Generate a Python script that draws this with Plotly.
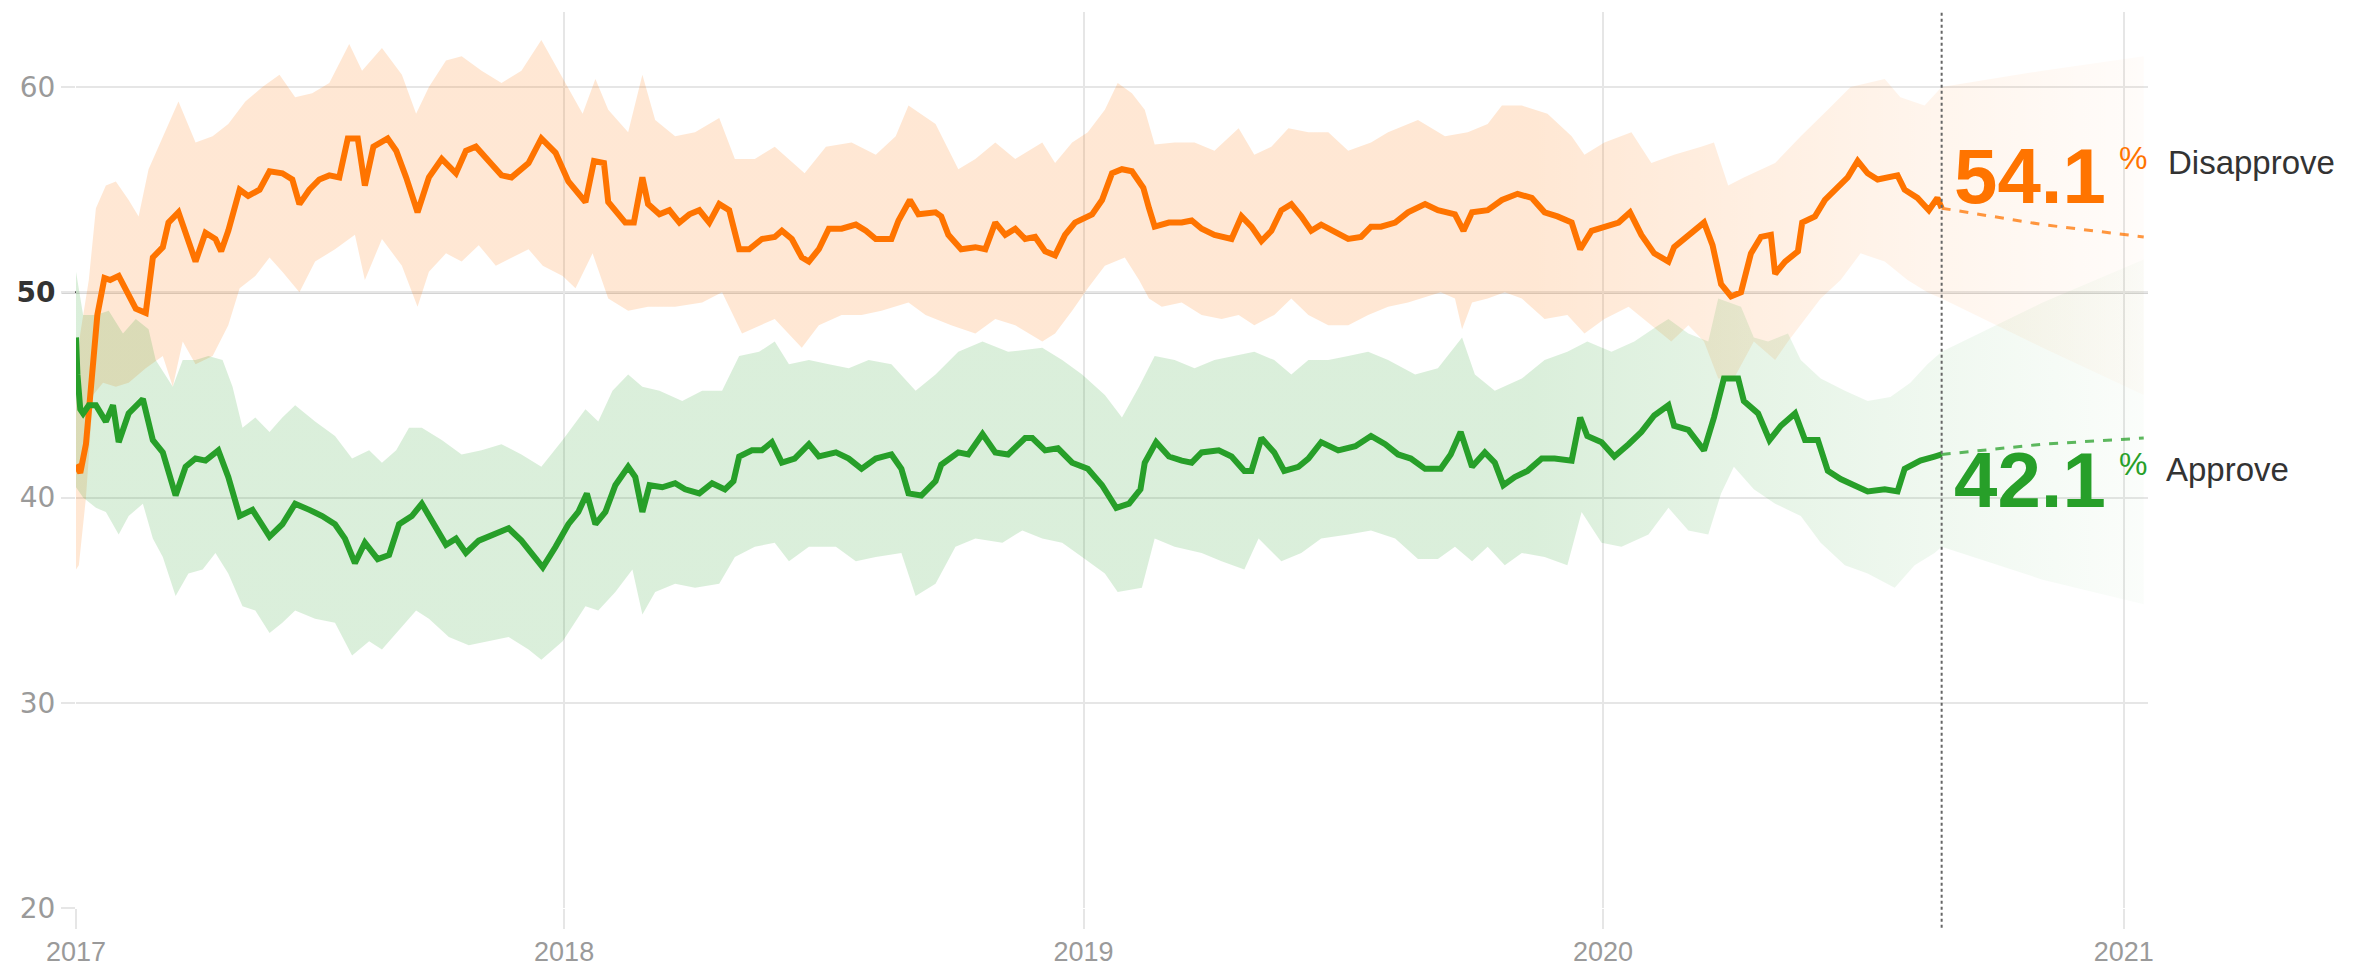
import pandas as pd
import plotly.graph_objects as go

# days counted from 2017-01-23 (start of the series)
start = pd.Timestamp("2017-01-23")

# --- Disapprove average (orange) ---
dis_day = [0, 3, 7, 12, 15, 20, 24, 30, 35, 42, 49, 54, 61, 65, 72, 78, 84, 91, 98, 102, 107, 115, 121, 129,
           136, 145, 152, 157, 164, 171, 178, 185, 191, 198, 203, 209, 219, 225, 232, 240, 248, 257, 267, 274,
           281, 290, 299, 306, 318, 327, 337, 346, 358, 364, 371, 374, 386, 392, 398, 402, 410, 417, 424, 431,
           438, 445, 452, 459, 466, 473, 482, 491, 496, 503, 510, 515, 522, 529, 538, 548, 555, 562, 573, 578,
           586, 592, 604, 608, 613, 622, 632, 639, 646, 653, 660, 667, 674, 681, 688, 695, 702, 714, 721, 728,
           735, 742, 750, 754, 758, 768, 777, 784, 791, 800, 812, 819, 826, 833, 840, 847, 854, 861, 868, 875,
           885, 894, 903, 910, 917, 927, 936, 948, 957, 969, 975, 981, 992, 1002, 1013, 1023, 1032, 1041, 1051,
           1057, 1065, 1074, 1084, 1092, 1100, 1109, 1119, 1123, 1133, 1144, 1150, 1156, 1163, 1170, 1177, 1184,
           1191, 1194, 1201, 1210, 1213, 1222, 1229, 1236, 1245, 1252, 1259, 1266, 1280, 1285, 1294, 1302, 1308,
           1311]
dis_val = [41.6, 41.2, 42.6, 46.5, 48.9, 50.7, 50.6, 50.8, 50.1, 49.2, 49.0, 51.7, 52.2, 53.4, 53.9, 52.6, 51.5,
           52.9, 52.6, 52.0, 53.0, 55.0, 54.7, 55.0, 55.9, 55.8, 55.5, 54.3, 55.0, 55.5, 55.7, 55.6, 57.5, 57.5,
           55.2, 57.1, 57.5, 56.9, 55.6, 53.9, 55.6, 56.5, 55.8, 56.9, 57.1, 56.4, 55.7, 55.6, 56.3, 57.5, 56.8,
           55.4, 54.4, 56.4, 56.3, 54.4, 53.4, 53.4, 55.6, 54.3, 53.8, 54.0, 53.4, 53.8, 54.0, 53.4, 54.3, 54.0,
           52.1, 52.1, 52.6, 52.7, 53.0, 52.6, 51.7, 51.5, 52.1, 53.1, 53.1, 53.3, 53.0, 52.6, 52.6, 53.5, 54.5,
           53.8, 53.9, 53.7, 52.8, 52.1, 52.2, 52.1, 53.4, 52.8, 53.1, 52.6, 52.7, 52.0, 51.8, 52.8, 53.4, 53.8,
           54.5, 55.8, 56.0, 55.9, 55.1, 54.1, 53.2, 53.4, 53.4, 53.5, 53.1, 52.8, 52.6, 53.7, 53.2, 52.5, 53.0,
           54.0, 54.3, 53.7, 53.0, 53.3, 52.9, 52.6, 52.7, 53.2, 53.2, 53.4, 53.9, 54.3, 54.0, 53.8, 53.0, 53.9,
           54.0, 54.5, 54.8, 54.6, 53.9, 53.7, 53.4, 52.1, 53.0, 53.2, 53.4, 53.9, 52.8, 51.9, 51.5, 52.2, 52.8,
           53.4, 52.3, 50.4, 49.8, 50.0, 51.9, 52.7, 52.8, 50.9, 51.5, 52.0, 53.4, 53.7, 54.5, 55.0, 55.6, 56.4,
           55.8, 55.5, 55.7, 55.0, 54.6, 54.0, 54.6, 54.1]

# --- Approve average (green) ---
app_day = [0, 1, 3, 5, 9, 14, 21, 26, 30, 37, 47, 54, 61, 70, 77, 84, 91, 100, 107, 115, 124, 136, 145, 154,
           164, 173, 182, 189, 196, 203, 212, 220, 227, 236, 243, 250, 260, 267, 274, 283, 295, 304, 313, 323,
           328, 337, 346, 353, 359, 365, 372, 379, 388, 393, 398, 403, 412, 421, 428, 438, 447, 456, 462, 466,
           475, 482, 489, 496, 505, 515, 522, 534, 543, 552, 562, 573, 580, 585, 594, 604, 608, 620, 627, 637,
           646, 655, 667, 672, 681, 690, 700, 711, 721, 731, 740, 748, 751, 759, 768, 777, 784, 791, 803, 812,
           821, 826, 833, 842, 849, 859, 866, 875, 887, 899, 910, 920, 929, 938, 948, 959, 966, 973, 981, 990,
           997, 1003, 1011, 1020, 1030, 1039, 1051, 1057, 1062, 1072, 1081, 1091, 1100, 1109, 1119, 1123, 1133,
           1144, 1151, 1158, 1168, 1172, 1182, 1190, 1198, 1208, 1215, 1224, 1231, 1240, 1250, 1259, 1271, 1280,
           1285, 1296, 1306, 1311]
app_val = [47.8, 46.0, 44.3, 44.1, 44.5, 44.5, 43.7, 44.5, 42.7, 44.1, 44.8, 42.8, 42.2, 40.1, 41.5, 41.9, 41.8,
           42.3, 41.0, 39.1, 39.4, 38.1, 38.7, 39.7, 39.4, 39.1, 38.7, 38.0, 36.8, 37.8, 37.0, 37.2, 38.7, 39.1,
           39.7, 38.9, 37.7, 38.0, 37.3, 37.9, 38.2, 38.5, 37.9, 37.1, 36.6, 37.6, 38.7, 39.3, 40.2, 38.7, 39.3,
           40.6, 41.5, 41.0, 39.3, 40.6, 40.5, 40.7, 40.4, 40.2, 40.7, 40.4, 40.8, 42.0, 42.3, 42.3, 42.7, 41.7,
           41.9, 42.6, 42.0, 42.2, 41.9, 41.4, 41.9, 42.1, 41.4, 40.2, 40.1, 40.8, 41.6, 42.2, 42.1, 43.1, 42.2,
           42.1, 42.9, 42.9, 42.3, 42.4, 41.7, 41.4, 40.6, 39.5, 39.7, 40.4, 41.7, 42.7, 42.0, 41.8, 41.7, 42.2,
           42.3, 42.0, 41.3, 41.3, 42.9, 42.2, 41.3, 41.5, 41.9, 42.7, 42.3, 42.5, 43.0, 42.6, 42.1, 41.9, 41.4,
           41.4, 42.1, 43.2, 41.5, 42.2, 41.7, 40.6, 41.0, 41.3, 41.9, 41.9, 41.8, 43.9, 43.0, 42.7, 42.0, 42.6,
           43.2, 44.0, 44.5, 43.5, 43.3, 42.3, 43.9, 45.8, 45.8, 44.7, 44.1, 42.8, 43.5, 44.1, 42.8, 42.8, 41.3,
           40.9, 40.6, 40.3, 40.4, 40.3, 41.4, 41.8, 42.0, 42.1]

# --- Disapprove uncertainty band ---
dis_hi_day = [0, 3, 9, 14, 21, 28, 37, 44, 51, 61, 72, 84, 96, 107, 119, 131, 143, 154, 166, 178, 192, 201, 215,
              229, 239, 248, 260, 271, 285, 299, 313, 327, 342, 356, 365, 374, 388, 398, 407, 421, 435, 452, 463,
              477, 491, 512, 527, 545, 562, 576, 585, 604, 620, 632, 646, 660, 679, 688, 700, 711, 723, 732, 742,
              751, 758, 772, 786, 800, 817, 828, 840, 852, 866, 880, 894, 910, 922, 943, 962, 978, 992, 1002,
              1016, 1034, 1051, 1060, 1074, 1093, 1107, 1123, 1142, 1151, 1161, 1172, 1194, 1212, 1231, 1247,
              1271, 1282, 1299, 1311]
dis_hi = [46.0, 48.0, 50.6, 54.1, 55.2, 55.4, 54.5, 53.7, 56.0, 57.6, 59.3, 57.3, 57.6, 58.2, 59.3, 60.0, 60.6,
          59.5, 59.7, 60.2, 62.1, 60.8, 61.9, 60.6, 58.7, 60.0, 61.3, 61.5, 60.8, 60.2, 60.8, 62.3, 60.4, 58.7,
          60.4, 58.9, 57.8, 60.6, 58.4, 57.6, 57.8, 58.5, 56.5, 56.5, 57.1, 55.8, 57.1, 57.3, 56.7, 57.6, 59.1,
          58.2, 56.0, 56.5, 57.3, 56.5, 57.3, 56.3, 57.3, 57.8, 58.9, 60.2, 59.7, 58.9, 57.2, 57.3, 57.3, 56.9,
          58.0, 56.7, 57.1, 58.0, 57.8, 57.8, 56.9, 57.3, 57.8, 58.4, 57.6, 57.8, 58.2, 59.1, 59.1, 58.7, 57.6,
          56.7, 57.3, 57.8, 56.3, 56.7, 57.1, 57.3, 55.2, 55.6, 56.3, 57.6, 58.9, 60.0, 60.4, 59.5, 59.1, 60.0]
dis_lo_day = [0, 2, 7, 12, 19, 28, 37, 49, 61, 68, 75, 84, 96, 107, 115, 126, 136, 145, 157, 168, 182, 196, 203,
              215, 229, 240, 248, 260, 271, 283, 295, 306, 318, 328, 342, 351, 363, 374, 388, 402, 421, 440, 454,
              468, 491, 510, 522, 538, 552, 566, 585, 597, 615, 632, 646, 660, 679, 688, 700, 711, 723, 737, 747,
              754, 763, 777, 791, 805, 817, 828, 842, 854, 866, 880, 894, 908, 922, 936, 945, 959, 969, 974, 981,
              992, 1004, 1016, 1032, 1048, 1060, 1074, 1091, 1107, 1121, 1133, 1144, 1154, 1165, 1179, 1194,
              1203, 1212, 1226, 1240, 1254, 1271, 1287, 1301, 1311]
dis_lo = [36.5, 36.7, 40.0, 45.0, 45.6, 45.4, 45.6, 46.3, 46.9, 45.4, 47.6, 46.5, 46.9, 48.4, 50.2, 50.8, 51.7,
          51.0, 50.0, 51.5, 52.1, 52.8, 50.6, 52.6, 51.3, 49.3, 51.0, 51.9, 51.5, 52.3, 51.3, 51.7, 52.1, 51.3,
          50.8, 50.2, 51.9, 49.7, 49.1, 49.3, 49.3, 49.5, 50.0, 48.0, 48.7, 47.3, 48.4, 48.9, 48.9, 49.1, 49.5,
          48.9, 48.4, 48.0, 48.7, 48.4, 47.6, 48.0, 49.1, 50.2, 51.3, 51.7, 50.6, 49.7, 49.3, 49.5, 48.9, 48.7,
          48.9, 48.4, 48.9, 49.7, 48.9, 48.4, 48.4, 48.9, 49.3, 49.5, 49.7, 50.0, 49.7, 48.2, 49.5, 49.7, 50.0,
          49.7, 48.7, 48.9, 48.0, 48.7, 49.3, 48.4, 47.6, 48.4, 47.6, 45.8, 45.8, 47.6, 46.7, 47.6, 48.4, 49.7,
          50.6, 51.9, 51.5, 50.6, 50.0, 49.7]

# --- Approve uncertainty band ---
app_hi_day = [0, 5, 14, 23, 33, 42, 51, 56, 68, 75, 84, 93, 103, 110, 117, 126, 136, 145, 154, 168, 182, 194,
              206, 215, 225, 234, 243, 257, 271, 285, 299, 313, 327, 342, 358, 367, 377, 388, 398, 410, 426, 440,
              454, 466, 480, 491, 501, 515, 529, 543, 557, 573, 590, 604, 620, 637, 655, 679, 693, 707, 723, 735,
              747, 758, 772, 786, 800, 814, 828, 842, 854, 866, 880, 894, 908, 922, 941, 957, 974, 983, 997, 1016,
              1032, 1048, 1062, 1079, 1095, 1112, 1119, 1133, 1147, 1154, 1170, 1179, 1189, 1203, 1212, 1226,
              1243, 1259, 1275, 1289, 1301, 1311]
app_hi = [51.0, 48.9, 48.9, 49.1, 48.0, 48.7, 48.2, 46.7, 45.4, 46.7, 46.7, 46.9, 46.7, 45.4, 43.4, 43.9, 43.2,
          43.9, 44.5, 43.7, 43.0, 41.9, 42.3, 41.7, 42.3, 43.4, 43.4, 42.8, 42.1, 42.3, 42.6, 42.1, 41.5, 42.8,
          44.3, 43.7, 45.2, 46.0, 45.4, 45.2, 44.7, 45.2, 45.2, 46.9, 47.1, 47.6, 46.5, 46.7, 46.5, 46.3, 46.7,
          46.5, 45.2, 46.0, 47.1, 47.6, 47.1, 47.3, 46.7, 46.0, 45.0, 43.9, 45.4, 46.9, 46.7, 46.3, 46.7, 46.9,
          47.1, 46.7, 46.0, 46.7, 46.7, 46.9, 47.1, 46.7, 46.0, 46.3, 47.8, 46.0, 45.2, 45.8, 46.7, 47.1, 47.6,
          47.1, 47.6, 48.4, 48.7, 48.0, 47.6, 49.7, 49.3, 47.8, 47.6, 48.0, 46.7, 45.8, 45.2, 44.7, 44.9, 45.6,
          46.5, 47.1]
app_lo_day = [0, 5, 14, 21, 30, 37, 47, 54, 61, 70, 79, 89, 98, 107, 117, 126, 136, 145, 154, 168, 182, 194,
              206, 215, 225, 239, 248, 262, 276, 290, 304, 318, 327, 342, 358, 367, 379, 391, 398, 407, 421, 435,
              452, 463, 477, 491, 501, 515, 534, 548, 562, 580, 590, 604, 618, 632, 651, 665, 679, 693, 707, 723,
              732, 749, 758, 772, 791, 805, 821, 831, 847, 861, 875, 894, 910, 927, 943, 957, 969, 981, 992, 1004,
              1016, 1032, 1048, 1058, 1072, 1086, 1105, 1119, 1133, 1147, 1156, 1165, 1179, 1194, 1212, 1226,
              1243, 1259, 1278, 1292, 1306, 1311]
app_lo = [40.5, 40.0, 39.5, 39.3, 38.2, 39.1, 39.7, 38.0, 37.1, 35.2, 36.3, 36.5, 37.3, 36.3, 34.7, 34.5, 33.4,
          33.9, 34.5, 34.1, 33.9, 32.3, 33.0, 32.6, 33.4, 34.5, 34.1, 33.2, 32.8, 33.0, 33.2, 32.6, 32.1, 33.0,
          34.7, 34.5, 35.4, 36.5, 34.3, 35.4, 35.8, 35.6, 35.8, 37.1, 37.6, 37.8, 36.9, 37.6, 37.6, 36.9, 37.1,
          37.3, 35.2, 35.8, 37.6, 38.0, 37.8, 38.4, 38.0, 37.8, 37.1, 36.3, 35.4, 35.6, 38.0, 37.6, 37.3, 36.9,
          36.5, 38.0, 36.9, 37.3, 38.0, 38.2, 38.4, 38.0, 37.0, 37.0, 37.6, 36.9, 37.6, 36.7, 37.3, 37.1, 36.7,
          39.3, 37.8, 37.6, 38.2, 39.5, 38.4, 38.2, 40.2, 41.5, 40.4, 39.7, 39.1, 37.8, 36.7, 36.3, 35.6, 36.7,
          37.3, 37.6]

# --- Projection to January 2021 ---
proj_day = [1311, 1382, 1453]
dis_proj = [54.1, 53.3, 52.7]
dis_proj_hi = [60.0, 60.8, 61.5]
dis_proj_lo = [49.7, 47.3, 45.0]
app_proj = [42.1, 42.6, 42.9]
app_proj_hi = [47.1, 49.5, 51.6]
app_proj_lo = [37.6, 36.0, 34.8]

y_ticks = [20, 30, 40, 50, 60]
x_tick_dates = ["2017-01-23", "2018-01-01", "2019-01-01", "2020-01-01", "2021-01-01"]
x_tick_text = ["2017", "2018", "2019", "2020", "2021"]

ORANGE = "#ff7400"
GREEN = "#279f29"


def to_dates(days):
    return [start + pd.Timedelta(days=d) for d in days]


def band(hi_day, hi, lo_day, lo):
    xs = to_dates(hi_day) + to_dates(lo_day)[::-1]
    ys = list(hi) + list(lo)[::-1]
    return xs, ys


fig = go.Figure()

# historical bands, fading out over the last months
for hd, h, ld, l, rgb in [(dis_hi_day, dis_hi, dis_lo_day, dis_lo, "255,116,0"),
                          (app_hi_day, app_hi, app_lo_day, app_lo, "40,160,42")]:
    bx, by = band(hd, h, ld, l)
    fig.add_trace(go.Scatter(
        x=bx, y=by, mode="lines", line=dict(width=0), fill="toself",
        fillcolor=f"rgba({rgb},0.17)",
        fillgradient=dict(type="horizontal", colorscale=[
            [0, f"rgba({rgb},0.17)"], [0.78, f"rgba({rgb},0.17)"], [1, f"rgba({rgb},0.07)"]]),
        hoverinfo="skip"))

# projection cones
for h, l, rgb in [(dis_proj_hi, dis_proj_lo, "255,116,0"), (app_proj_hi, app_proj_lo, "40,160,42")]:
    bx, by = band(proj_day, h, proj_day, l)
    fig.add_trace(go.Scatter(
        x=bx, y=by, mode="lines", line=dict(width=0), fill="toself",
        fillcolor=f"rgba({rgb},0.05)",
        fillgradient=dict(type="horizontal", colorscale=[
            [0, f"rgba({rgb},0.07)"], [1, f"rgba({rgb},0.02)"]]),
        hoverinfo="skip"))

# averages
fig.add_trace(go.Scatter(x=to_dates(dis_day), y=dis_val, mode="lines",
                         line=dict(color=ORANGE, width=6), hoverinfo="skip"))
fig.add_trace(go.Scatter(x=to_dates(app_day), y=app_val, mode="lines",
                         line=dict(color=GREEN, width=6), hoverinfo="skip"))

# projected averages
fig.add_trace(go.Scatter(x=to_dates(proj_day), y=dis_proj, mode="lines",
                         line=dict(color="rgba(255,116,0,0.75)", width=3, dash="dash"), hoverinfo="skip"))
fig.add_trace(go.Scatter(x=to_dates(proj_day), y=app_proj, mode="lines",
                         line=dict(color="rgba(40,160,42,0.75)", width=3, dash="dash"), hoverinfo="skip"))

last = to_dates(dis_day)[-1]

# 50% line and "today" marker
fig.add_shape(type="line", xref="paper", yref="y", x0=-0.007, x1=1, y0=50, y1=50,
              line=dict(color="#555555", width=2), layer="below")
fig.add_shape(type="line", xref="x", yref="paper", x0=last, x1=last, y0=-0.022, y1=1,
              line=dict(color="#666666", width=2, dash="dot"))

big = dict(family="Liberation Sans, Arial, sans-serif", size=78)
fig.add_annotation(x=last, y=dis_val[-1], text=f"<b>{dis_val[-1]:.1f}</b>", showarrow=False,
                   xanchor="left", yanchor="middle", xshift=10, yshift=32, font=dict(color=ORANGE, **big))
fig.add_annotation(x=last, y=app_val[-1], text=f"<b>{app_val[-1]:.1f}</b>", showarrow=False,
                   xanchor="left", yanchor="middle", xshift=10, yshift=-26, font=dict(color=GREEN, **big))
pct = dict(family="Liberation Sans, Arial, sans-serif", size=32)
fig.add_annotation(x=last, y=dis_val[-1], text="%", showarrow=False, xanchor="left", yanchor="middle",
                   xshift=175, yshift=50, font=dict(color=ORANGE, **pct))
fig.add_annotation(x=last, y=app_val[-1], text="%", showarrow=False, xanchor="left", yanchor="middle",
                   xshift=175, yshift=-10, font=dict(color=GREEN, **pct))
lab = dict(family="Liberation Sans, Arial, sans-serif", size=33, color="#333333")
fig.add_annotation(x=last, y=dis_val[-1], text="Disapprove", showarrow=False, xanchor="left",
                   yanchor="middle", xshift=224, yshift=46, font=lab)
fig.add_annotation(x=last, y=app_val[-1], text="Approve", showarrow=False, xanchor="left",
                   yanchor="middle", xshift=222, yshift=-15, font=lab)

y_text = [f"<span style='color:#333333'><b>{v}</b></span>" if v == 50 else str(v) for v in y_ticks]

# the page body adds an 8px offset, margins below take it into account
fig.update_layout(
    width=2363, height=963,
    margin=dict(l=68, r=223, t=4, b=57),
    plot_bgcolor="white", paper_bgcolor="white",
    showlegend=False, hovermode=False,
    xaxis=dict(
        range=[start, start + pd.Timedelta(days=1456)],
        tickvals=x_tick_dates, ticktext=x_tick_text,
        showgrid=True, gridcolor="#e6e6e6", gridwidth=2,
        ticks="outside", ticklen=20, tickcolor="#e6e6e6", tickwidth=2,
        ticklabelstandoff=0,
        tickfont=dict(family="Liberation Sans, Arial, sans-serif", size=27, color="#9a9a9a"),
        showline=False, zeroline=False,
    ),
    yaxis=dict(
        range=[20, 63.66],
        tickvals=y_ticks, ticktext=y_text,
        showgrid=True, gridcolor="#e6e6e6", gridwidth=2,
        ticks="outside", ticklen=14, tickcolor="#e6e6e6", tickwidth=2,
        tickfont=dict(family="DejaVu Sans, sans-serif", size=28, color="#9a9a9a"),
        showline=False, zeroline=False,
    ),
)

fig.write_html("out.html")
